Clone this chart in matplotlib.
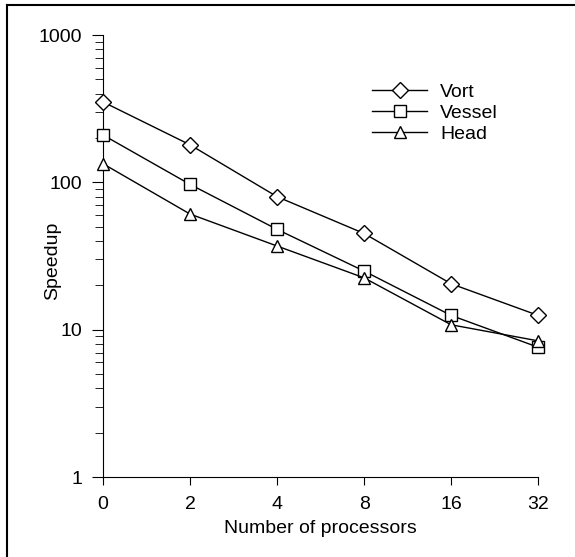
import matplotlib.pyplot as plt
from matplotlib.lines import Line2D

plt.rcParams['font.family'] = ['Liberation Sans', 'DejaVu Sans']

procs = ['0', '2', '4', '8', '16', '32']
vort = [352, 180, 80, 45, 20.5, 12.5]
vessel = [210, 97, 48, 25, 12.5, 7.6]
head = [134, 61, 37, 22.5, 10.8, 8.4]

fig = plt.figure(figsize=(5.75, 5.57), dpi=100)
ax = fig.add_axes([0.179, 0.1436, 0.757, 0.7934])

x = range(len(procs))
style = dict(color='black', mfc='white', mec='black', lw=1, clip_on=False, zorder=3)
ax.plot(x, vort, marker='D', ms=8, label='Vort', **style)
ax.plot(x, vessel, marker='s', ms=8, label='Vessel', **style)
ax.plot(x, head, marker='^', ms=8.5, label='Head', **style)

ax.set_yscale('log')
ax.set_ylim(1, 1000)
ax.set_xlim(0, 5)
ax.set_xticks(list(x))
ax.set_xticklabels(procs)
ax.set_yticks([1, 10, 100, 1000])
ax.set_yticklabels(['1', '10', '100', '1000'])

ax.spines['top'].set_visible(False)
ax.spines['right'].set_visible(False)
ax.tick_params(axis='y', which='major', direction='out', length=8, labelsize=14, pad=7)
ax.tick_params(axis='y', which='minor', direction='out', length=6)
ax.tick_params(axis='x', direction='out', length=6, labelsize=14, pad=8)
for s in ax.spines.values():
    s.set_clip_on(False)

ax.set_xlabel('Number of processors', fontsize=14, labelpad=5)
ax.set_ylabel('Speedup', fontsize=14)
ax.yaxis.set_label_coords(-0.097, 0.49)

ax.legend(loc='upper left', bbox_to_anchor=(372 / 575, 1 - 83 / 557),
          bbox_transform=fig.transFigure, frameon=False, fontsize=14,
          handlelength=2.85, handletextpad=0.65, labelspacing=0.18,
          borderpad=0, borderaxespad=0)

# scanned page frame: left and top edges only
fig.add_artist(Line2D([7 / 575, 7 / 575], [0, 1 - 5 / 557], transform=fig.transFigure,
                      color='black', lw=1.5))
fig.add_artist(Line2D([7 / 575, 1], [1 - 5 / 557, 1 - 5 / 557], transform=fig.transFigure,
                      color='black', lw=1.5))

fig.savefig('out.png', dpi=100)
